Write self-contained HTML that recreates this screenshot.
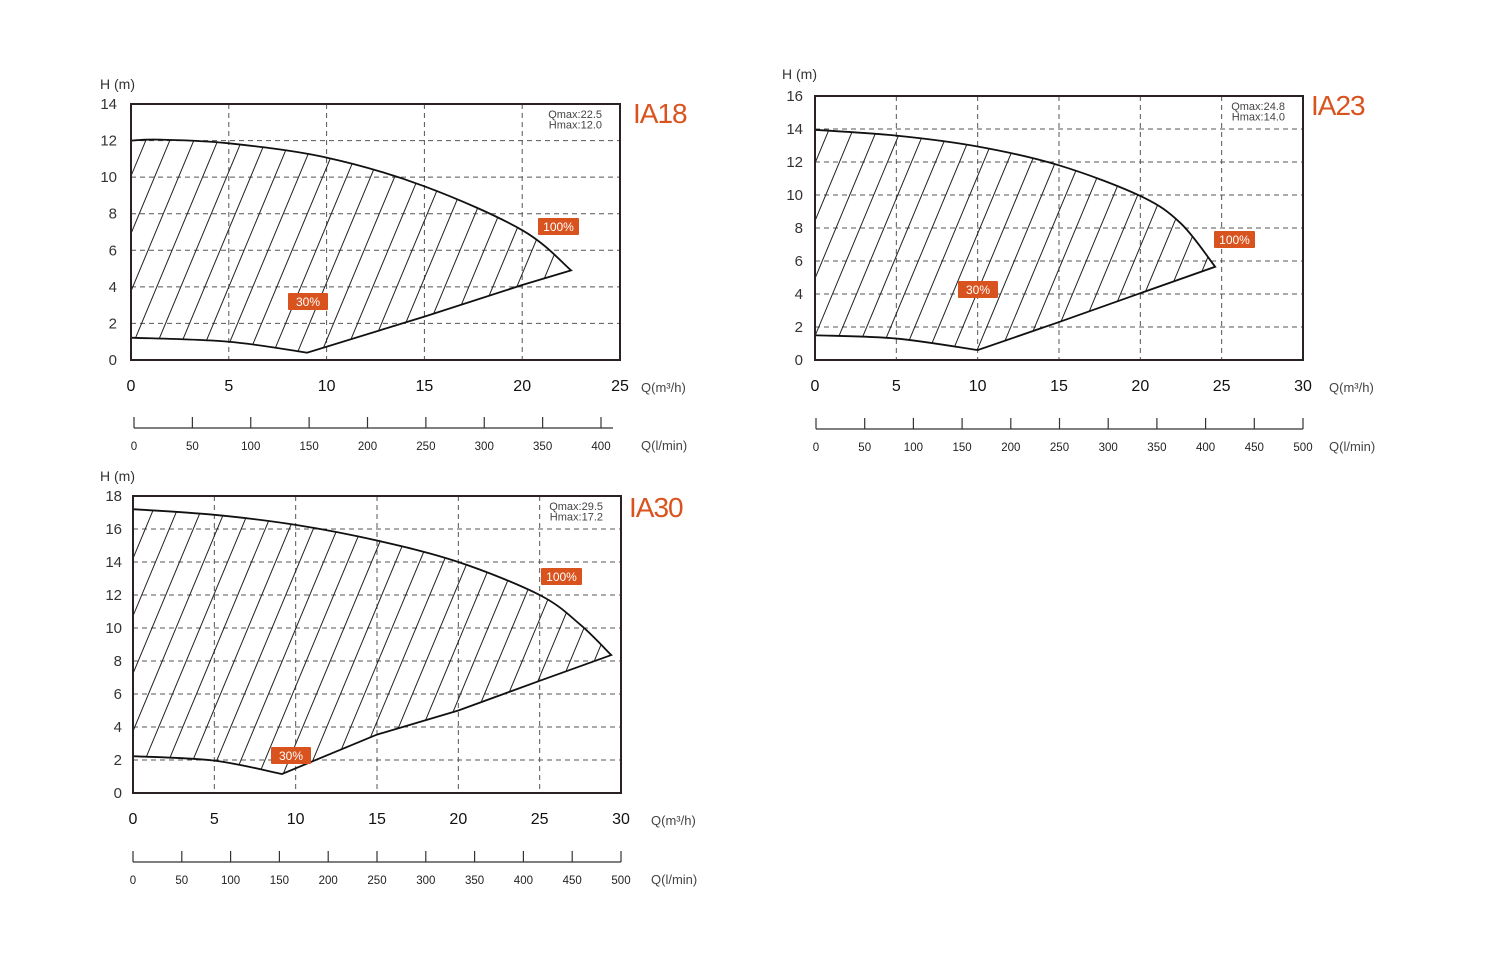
<!DOCTYPE html>
<html><head><meta charset="utf-8"><style>
html,body{margin:0;padding:0;background:#fff;}
svg{display:block;font-family:"Liberation Sans",Arial,sans-serif;}
</style></head><body>
<svg id="root" width="1500" height="953" viewBox="0 0 1500 953"></svg>
<script>
// ---- Data ----
const ia18Upper = [[0,12.0],[1.5,12.05],[5,11.85],[10,11.07],[15,9.5],[20,7.1],[22.5,4.9]];
const ia18Lower = [[0,1.22],[5,1.0],[9,0.4]];
const ia18Line = [[9,0.4],[15,2.37],[20,4.1],[22.5,4.9]];
const ia23Upper = [[0,13.95],[5,13.6],[10,12.94],[15,11.8],[20,9.94],[22.5,8.27],[24.6,5.65]];
const ia23Lower = [[0,1.5],[5,1.3],[10,0.6]];
const ia23Line = [[10,0.6],[15,2.3],[20,4.05],[24.6,5.65]];
const ia30Upper = [[0,17.2],[5,16.86],[10,16.25],[15,15.3],[20,14.0],[25,12.0],[27.5,10.2],[29.4,8.36]];
const ia30Lower = [[0,2.23],[5,1.96],[9.15,1.15]];
const ia30Line = [[9.15,1.15],[15,3.54],[20,5.0],[25,6.8],[29.4,8.36]];
const ia18XTicks = [0,5,10,15,20,25];
const ia23XTicks = [0,5,10,15,20,25,30];
const ia30XTicks = [0,5,10,15,20,25,30];
const ia18YTicks = [0,2,4,6,8,10,12,14];
const ia23YTicks = [0,2,4,6,8,10,12,14,16];
const ia30YTicks = [0,2,4,6,8,10,12,14,16,18];
const ia18LTicks = [0,50,100,150,200,250,300,350,400];
const ia23LTicks = [0,50,100,150,200,250,300,350,400,450,500];
const ia30LTicks = [0,50,100,150,200,250,300,350,400,450,500];
const ia18Info = ["Qmax:22.5","Hmax:12.0"];
const ia23Info = ["Qmax:24.8","Hmax:14.0"];
const ia30Info = ["Qmax:29.5","Hmax:17.2"];

const NS="http://www.w3.org/2000/svg";
const root=document.getElementById('root');
function mk(tag,attrs,parent,txt){const e=document.createElementNS(NS,tag);for(const k in attrs)e.setAttribute(k,attrs[k]);if(txt!==undefined)e.textContent=txt;(parent||root).appendChild(e);return e;}
function spline(pts){let d='M'+pts[0][0]+','+pts[0][1];for(let i=0;i<pts.length-1;i++){const p0=pts[Math.max(0,i-1)],p1=pts[i],p2=pts[i+1],p3=pts[Math.min(pts.length-1,i+2)];const c1x=p1[0]+(p2[0]-p0[0])/6,c1y=p1[1]+(p2[1]-p0[1])/6,c2x=p2[0]-(p3[0]-p1[0])/6,c2y=p2[1]-(p3[1]-p1[1])/6;d+=` C${c1x},${c1y} ${c2x},${c2y} ${p2[0]},${p2[1]}`;}return d;}
function chart(c){
  const g=mk('g',{});
  
  
  const X=v=>c.x0+(c.x1-c.x0)*v/c.xmax, Y=v=>c.y1-(c.y1-c.y0)*v/c.ymax;
  const grid=mk('g',{stroke:'#555','stroke-width':1,'stroke-dasharray':'5,4'},g);
  
  
  c.xt.forEach(v=>{if(v>0&&v<c.xmax)mk('line',{x1:X(v),x2:X(v),y1:c.y0,y2:c.y1},grid);});
  c.yt.forEach(v=>{if(v>0&&v<c.ymax)mk('line',{x1:c.x0,x2:c.x1,y1:Y(v),y2:Y(v)},grid);});
  const up=c.up.map(p=>[X(p[0]),Y(p[1])]);
  const lo=c.lo.map(p=>[X(p[0]),Y(p[1])]);
  const ln=c.ln.map(p=>[X(p[0]),Y(p[1])]);
  let d=spline(up);
  for(let i=ln.length-2;i>=0;i--)d+=' L'+ln[i][0]+','+ln[i][1];
  const lor=lo.slice().reverse();
  d+=' '+spline(lor).replace(/^M/,'L')+' Z';
  const cp=mk('clipPath',{id:'clip-'+c.id},g);
  mk('path',{d:d},cp);
  const hatch=mk('g',{'clip-path':'url(#clip-'+c.id+')',stroke:'#222','stroke-width':1},g);
  
  
  const s=2.4,h=c.y1-c.y0;
  for(let x=c.x0-h/s+c.hoff;x<c.x1+30;x+=24){mk('line',{x1:x,y1:c.y1,x2:x+h/s,y2:c.y0},hatch);}
  const outline=mk('path',{d:d,fill:'none',stroke:'#111','stroke-width':1.8,'stroke-linejoin':'miter'},g);
  
  
  const fr=mk('rect',{x:c.x0,y:c.y0,width:c.x1-c.x0,height:c.y1-c.y0,fill:'none',stroke:'#2a2222','stroke-width':2},g);
  
  
  c.yt.forEach(v=>{const t=mk('text',{x:c.ylx,y:Y(v)+5,'text-anchor':'end','font-size':15,fill:'#333'},g,String(v));});
  const yt=mk('text',{x:c.hx,y:c.hy,'font-size':14,fill:'#333'},g,'H (m)');
  
  c.xt.forEach(v=>{const t=mk('text',{x:X(v),y:c.xly,'text-anchor':'middle','font-size':16,fill:'#111'},g,String(v));});
  const xt=mk('text',{x:c.qx,y:c.xly+1,'font-size':13,fill:'#444'},g,'Q(m³/h)');
  
  const L=v=>c.lx0+(c.lx1-c.lx0)*v/c.lmax;
  const la=mk('g',{stroke:'#333','stroke-width':1.2},g);
  
  mk('line',{x1:c.lx0,x2:c.lend,y1:c.ly,y2:c.ly},la);
  c.lt.forEach(v=>mk('line',{x1:L(v),x2:L(v),y1:c.ly,y2:c.ly-11},la));
  c.lt.forEach(v=>{const t=mk('text',{x:L(v),y:c.ly+22,'text-anchor':'middle','font-size':11.5,fill:'#222'},g,String(v));});
  const lt=mk('text',{x:c.qx,y:c.ly+22,'font-size':13,fill:'#444'},g,'Q(l/min)');
  
  const ti=mk('text',{x:c.tx,y:c.ty,'font-size':28,'letter-spacing':-1,fill:'#d9531e'},g,c.title);
  
  c.info.forEach((s2,i)=>{const t=mk('text',{x:c.x1-18,y:c.y0+14+i*10.5,'text-anchor':'end','font-size':11,fill:'#444'},g,s2);});
  c.boxes.forEach(b=>{const bg=mk('g',{},g);
    mk('rect',{x:b[0],y:b[1],width:b[2].length>3?41:40,height:17,fill:'#d9531e',rx:1},bg);
    mk('text',{x:b[0]+(b[2].length>3?20.5:20),y:b[1]+13,'text-anchor':'middle','font-size':12,fill:'#fff'},bg,b[2]);});
}
chart({id:'ia18',title:'IA18',x0:131,x1:620,y0:104,y1:360,xmax:25,ymax:14,xt:ia18XTicks,yt:ia18YTicks,up:ia18Upper,lo:ia18Lower,ln:ia18Line,
  ylx:117,hx:100,hy:89,xly:391,qx:641,lx0:134,lx1:601,lmax:400,lend:613,ly:428,lt:ia18LTicks,tx:633,ty:123,info:ia18Info,hoff:6,
  boxes:[[538,218,'100%'],[288,293,'30%']]});
chart({id:'ia23',title:'IA23',x0:815,x1:1303,y0:96,y1:360,xmax:30,ymax:16,xt:ia23XTicks,yt:ia23YTicks,up:ia23Upper,lo:ia23Lower,ln:ia23Line,
  ylx:803,hx:782,hy:79,xly:391,qx:1329,lx0:816,lx1:1303,lmax:500,lend:1303,ly:429,lt:ia23LTicks,tx:1311,ty:115,info:ia23Info,hoff:4,
  boxes:[[1214,231,'100%'],[958,281,'30%']]});
chart({id:'ia30',title:'IA30',x0:133,x1:621,y0:496,y1:793,xmax:30,ymax:18,xt:ia30XTicks,yt:ia30YTicks,up:ia30Upper,lo:ia30Lower,ln:ia30Line,
  ylx:122,hx:100,hy:481,xly:824,qx:651,lx0:133,lx1:621,lmax:500,lend:621,ly:862,lt:ia30LTicks,tx:629,ty:517,info:ia30Info,hoff:2,
  boxes:[[541,568,'100%'],[271,747,'30%']]});
</script>
</body></html>
